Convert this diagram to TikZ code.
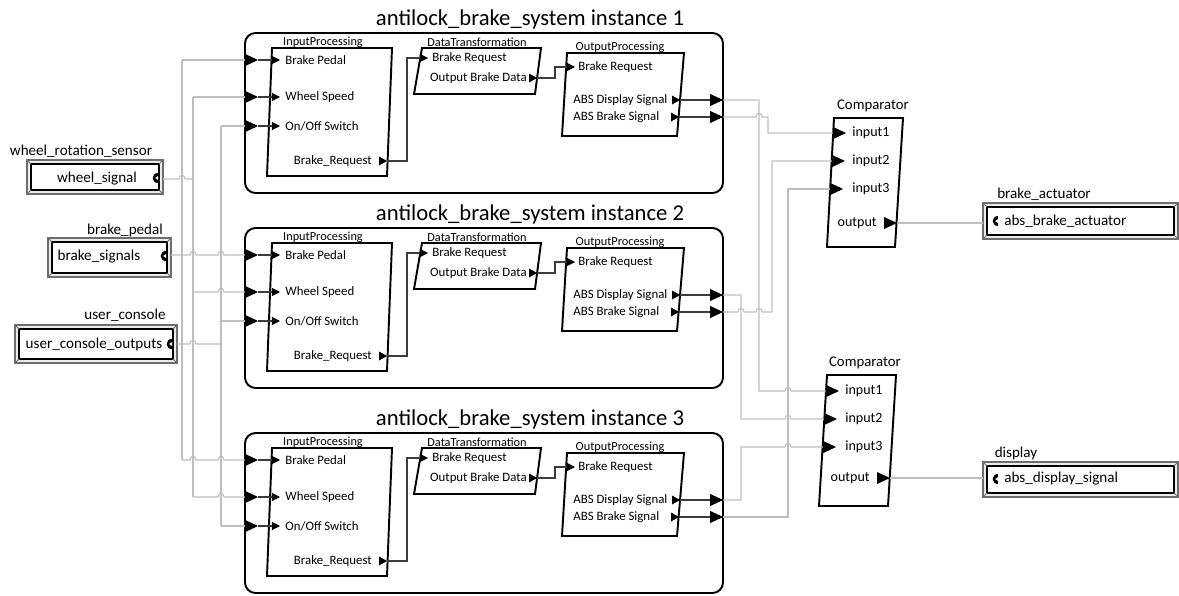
\documentclass[tikz,border=0pt]{standalone}
\usepackage{fontspec}
\setmainfont{Carlito}
\usetikzlibrary{arrows.meta, positioning, calc}

\definecolor{wiregray}{RGB}{190,190,190}
\definecolor{innerwire}{RGB}{60,60,60}
\definecolor{framegray}{RGB}{110,110,110}
\definecolor{bevelfill}{RGB}{236,236,236}

\tikzset{
  blockline/.style={draw=black, line width=1.1pt},
  sysbox/.style={draw=black, line width=1.1pt, rounded corners=6pt},
  wire/.style={draw=wiregray, line width=0.6pt},
  iwire/.style={draw=innerwire, line width=0.6pt},
  bigin/.style={-{Triangle[length=7.4pt, width=6.8pt, color=black]}},
  smallin/.style={-{Triangle[length=4.6pt, width=4.6pt, color=black]}},
  titletext/.style={font=\fontsize{12.9}{14}\selectfont, inner sep=0pt},
  blocklabel/.style={font=\fontsize{7}{8}\selectfont, inner sep=0pt},
  portlabel/.style={font=\fontsize{7.3}{8}\selectfont, inner sep=0pt},
  cmplabel/.style={font=\fontsize{8}{9}\selectfont, inner sep=0pt},
  partlabel/.style={font=\fontsize{8.6}{10}\selectfont, inner sep=0pt},
  outport/.pic={\fill (0,0) -- (-8,-4.5) -- (-8,4.5) -- cycle;},
  bigout/.pic={\fill (0,0) -- (-13,-6) -- (-13,6) -- cycle;},
  flowport/.pic={\fill (3,-5) .. controls (-4,-5) and (-4,5) .. (3,5) -- cycle;
                 \fill[white] (3.2,-2) -- (0.2,0) -- (3.2,2) -- cycle;}
}

% hop over a crossing wire at x=#1 on a horizontal wire at y=#2
\newcommand{\hopat}[2]{-- (#1-3,#2) .. controls (#1-3,#2-5) and (#1+3,#2-5) .. (#1+3,#2)}
% framed part box
\newcommand{\partframe}[4]{%
  \fill[bevelfill, even odd rule] (#1,#2) rectangle (#3,#4) (#1+4,#2+4) rectangle (#3-4,#4-4);
  \draw[framegray, line width=0.8pt] (#1,#2) rectangle (#3,#4);
  \draw[black, line width=0.8pt] (#1+4,#2+4) rectangle (#3-4,#4-4);
  \draw[framegray, line width=0.5pt] (#1,#2) -- (#1+4,#2+4) (#3,#2) -- (#3-4,#2+4)
     (#1,#4) -- (#1+4,#4-4) (#3,#4) -- (#3-4,#4-4);}

\begin{document}
\begin{tikzpicture}[x=0.02cm, y=-0.02cm]
\useasboundingbox (0,0) rectangle (1179,595);

% ABS instances
\foreach \n/\Y in {1/33, 2/228, 3/433}{
  \node[titletext] (title\n) at (530,\Y-14) {antilock\_brake\_system instance \n};
  \draw[sysbox] (245,\Y) rectangle (723,\Y+160);
  % InputProcessing
  \draw[blockline] (272,\Y+15) -- (392,\Y+15) -- (387,\Y+143) -- (267,\Y+143) -- cycle;
  \node[blocklabel] (ip\n) at (323,\Y+9) {InputProcessing};
  \node[portlabel, anchor=west] (ip\n-bpl) at (285,\Y+27) {Brake Pedal};
  \node[portlabel, anchor=west] (ip\n-wsl) at (285,\Y+64) {Wheel Speed};
  \node[portlabel, anchor=west] (ip\n-ool) at (285,\Y+93) {On/Off Switch};
  \node[portlabel, anchor=east] (ip\n-brl) at (372,\Y+128) {Brake\_Request};
  \coordinate (i\n-bp) at (258,\Y+27);
  \coordinate (i\n-ws) at (258,\Y+64);
  \coordinate (i\n-oo) at (258,\Y+93);
  \coordinate (ip\n-bp) at (280,\Y+27);
  \coordinate (ip\n-ws) at (280,\Y+64);
  \coordinate (ip\n-oo) at (280,\Y+93);
  \coordinate (ip\n-br) at (387,\Y+128);
  % DataTransformation
  \draw[blockline] (422,\Y+15) -- (541,\Y+15) -- (535,\Y+61) -- (414,\Y+61) -- cycle;
  \node[blocklabel] (dt\n) at (477,\Y+9) {DataTransformation};
  \node[portlabel, anchor=west] (dt\n-brl) at (432,\Y+25) {Brake Request};
  \node[portlabel, anchor=east] (dt\n-obl) at (527,\Y+45) {Output Brake Data};
  \coordinate (dt\n-br) at (428,\Y+25);
  \coordinate (dt\n-ob) at (537,\Y+45);
  % OutputProcessing
  \draw[blockline] (567,\Y+20) -- (684,\Y+20) -- (677,\Y+103) -- (562,\Y+103) -- cycle;
  \node[blocklabel] (op\n) at (620,\Y+14) {OutputProcessing};
  \node[portlabel, anchor=west] (op\n-brl) at (578,\Y+34) {Brake Request};
  \node[portlabel, anchor=west] (op\n-dsl) at (573,\Y+67) {ABS Display Signal};
  \node[portlabel, anchor=west] (op\n-bsl) at (573,\Y+84) {ABS Brake Signal};
  \coordinate (op\n-br) at (575,\Y+34);
  \coordinate (op\n-ds) at (680,\Y+67);
  \coordinate (op\n-bs) at (679,\Y+84);
  \coordinate (i\n-disp) at (723,\Y+67);
  \coordinate (i\n-brk) at (723,\Y+84);
  % internal wiring
  \draw[iwire, smallin] (i\n-bp) -- (ip\n-bp);
  \draw[iwire, smallin] (i\n-ws) -- (ip\n-ws);
  \draw[iwire, smallin] (i\n-oo) -- (ip\n-oo);
  \pic at (ip\n-br) {outport};
  \draw[iwire, smallin] (ip\n-br) -- (407,\Y+128) -- (407,\Y+25) -- (dt\n-br);
  \pic at (dt\n-ob) {outport};
  \draw[iwire, smallin] (dt\n-ob) -- (555,\Y+45) -- (555,\Y+34) -- (op\n-br);
  \pic at (op\n-ds) {outport};
  \pic at (op\n-bs) {outport};
  \draw[iwire, bigin] (op\n-ds) -- (i\n-disp);
  \draw[iwire, bigin] (op\n-bs) -- (i\n-brk);
}

% Comparators
\draw[blockline] (834,118) -- (903,118) -- (895,247) -- (827,247) -- cycle;
\node[cmplabel, font=\fontsize{8.4}{9}\selectfont] (cmp1) at (873,106) {Comparator};
\node[cmplabel, anchor=west] (cmp1-l1) at (852,133) {input1};
\node[cmplabel, anchor=west] (cmp1-l2) at (852,161) {input2};
\node[cmplabel, anchor=west] (cmp1-l3) at (852,189) {input3};
\node[cmplabel, anchor=east] (cmp1-lo) at (877,223) {output};
\coordinate (c1-in1) at (846,133);
\coordinate (c1-in2) at (845,161);
\coordinate (c1-in3) at (843,189);
\coordinate (c1-out) at (897,223);
\pic at (c1-out) {bigout};

\draw[blockline] (827,375) -- (896,375) -- (888,506) -- (819,506) -- cycle;
\node[cmplabel, font=\fontsize{8.4}{9}\selectfont] (cmp2) at (865,363) {Comparator};
\node[cmplabel, anchor=west] (cmp2-l1) at (845,391) {input1};
\node[cmplabel, anchor=west] (cmp2-l2) at (845,419) {input2};
\node[cmplabel, anchor=west] (cmp2-l3) at (845,447) {input3};
\node[cmplabel, anchor=east] (cmp2-lo) at (870,478) {output};
\coordinate (c2-in1) at (839,391);
\coordinate (c2-in2) at (837,419);
\coordinate (c2-in3) at (836,447);
\coordinate (c2-out) at (890,478);
\pic at (c2-out) {bigout};

% Sensors
\partframe{27}{160}{163}{194}
\node[partlabel] (wrs) at (81,151) {wheel\_rotation\_sensor};
\node[partlabel] (wrs-sig) at (97,179) {wheel\_signal};
\pic at (155,178) {flowport};
\coordinate (ws-out) at (163,179);

\partframe{48}{238}{171}{277}
\node[partlabel] (bpd) at (125,230) {brake\_pedal};
\node[partlabel] (bpd-sig) at (99,257) {brake\_signals};
\pic at (163,256) {flowport};
\coordinate (bs-out) at (171,255);

\partframe{15}{325}{177}{363}
\node[partlabel] (ucn) at (125,315) {user\_console};
\node[partlabel] (ucn-sig) at (94,344) {user\_console\_outputs};
\pic at (169,344) {flowport};
\coordinate (uc-out) at (177,344);

% Actuators
\partframe{983}{203}{1178}{239}
\node[partlabel] (bac) at (1044,194) {brake\_actuator};
\node[partlabel, anchor=west] (bac-sig) at (1004,221) {abs\_brake\_actuator};
\pic at (995,221) {flowport};
\coordinate (ba-in) at (983,223);

\partframe{983}{462}{1178}{497}
\node[partlabel] (dsp) at (1016,453) {display};
\node[partlabel, anchor=west] (dsp-sig) at (1004,479) {abs\_display\_signal};
\pic at (995,479) {flowport};
\coordinate (dp-in) at (983,478);

% brake pedal bus
\draw[wire, bigin] (bs-out) \hopat{193}{255} \hopat{221}{255} -- (i2-bp);
\draw[wire] (182,60) -- (182,460);
\draw[wire, bigin] (182,60) -- (i1-bp);
\draw[wire, bigin] (182,460) \hopat{193}{460} \hopat{221}{460} -- (i3-bp);
% wheel speed bus
\draw[wire] (ws-out) \hopat{182}{179} -- (193,179);
\draw[wire] (193,97) -- (193,497);
\draw[wire, bigin] (193,97) -- (i1-ws);
\draw[wire, bigin] (193,292) \hopat{221}{292} -- (i2-ws);
\draw[wire, bigin] (193,497) \hopat{221}{497} -- (i3-ws);
% on/off bus
\draw[wire] (uc-out) \hopat{193}{344} -- (221,344);
\draw[wire] (221,126) -- (221,526);
\draw[wire, bigin] (221,126) -- (i1-oo);
\draw[wire, bigin] (221,321) -- (i2-oo);
\draw[wire, bigin] (221,526) -- (i3-oo);

% outputs to comparators
\draw[wire, bigin] (i1-disp) -- (759,100) -- (759,391) \hopat{788}{391} -- (c2-in1);
\draw[wire, bigin] (i1-brk) \hopat{759}{117} -- (768,117) -- (768,133) -- (c1-in1);
\draw[wire, bigin] (i2-disp) -- (741,295) -- (741,419) \hopat{788}{419} -- (c2-in2);
\draw[wire, bigin] (i2-brk) \hopat{741}{312} \hopat{759}{312} -- (772,312) -- (772,161) -- (c1-in2);
\draw[wire, bigin] (i3-disp) -- (741,500) -- (741,447) \hopat{788}{447} -- (c2-in3);
\draw[wire, bigin] (i3-brk) -- (788,517) -- (788,189) -- (c1-in3);
\draw[wire] (c1-out) -- (ba-in);
\draw[wire] (c2-out) -- (dp-in);
\end{tikzpicture}
\end{document}
